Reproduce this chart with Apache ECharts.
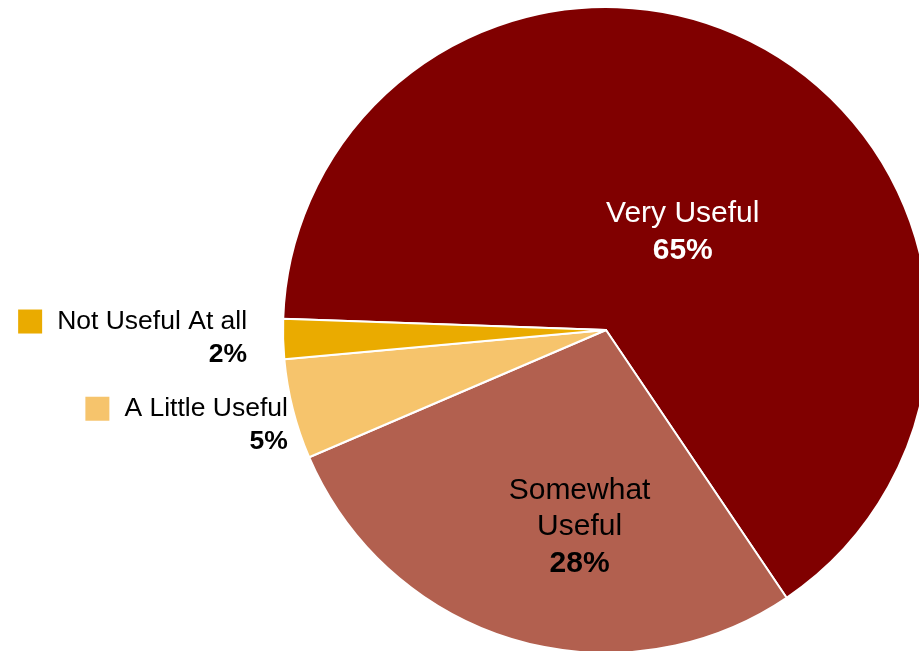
<!DOCTYPE html>
<html>
<head>
<meta charset="utf-8">
<script src="https://cdn.jsdelivr.net/npm/echarts@6/dist/echarts.min.js"></script>
<style>
  html, body { margin: 0; padding: 0; background: #fff; }
  #chart { width: 919px; height: 651px; }
</style>
</head>
<body>
<div id="chart"></div>
<script>
// 数据
const categories = ['Very Useful', 'Somewhat Useful', 'A Little Useful', 'Not Useful At all'];
const percents = [65, 28, 5, 2];
const colors = ['#800000', '#B2604F', '#F6C46C', '#EAAB00'];

const font = '"Liberation Sans", Arial, sans-serif';

// 大扇区的内部标签
const insideLabel = (text, color, offset) => ({
    position: 'inside',
    offset: offset,
    formatter: text + '\n{pct|{c}%}',
    color: color,
    fontFamily: font,
    fontSize: 30,
    lineHeight: 36.5,
    align: 'center',
    rich: {
        pct: { fontWeight: 'bold', fontSize: 30, lineHeight: 36.5, color: color, fontFamily: font }
    }
});

// 小扇区的外部标签（带图例方块）
const outsideLabel = (color, offset) => ({
    position: 'outside',
    offset: offset,
    formatter: '{box|}{gap|}{name|{b}}\n{pct|{c}%}',
    fontFamily: font,
    color: '#000',
    rich: {
        box: { backgroundColor: color, width: 24, height: 24, align: 'left' },
        gap: { width: 15, align: 'left' },
        name: { fontSize: 26.5, lineHeight: 33, color: '#000', fontFamily: font, align: 'left' },
        pct: { fontSize: 26.5, lineHeight: 33, fontWeight: 'bold', color: '#000', fontFamily: font, align: 'right' }
    }
});

const labels = [
    insideLabel('Very Useful', '#fff', [-3, 46]),
    insideLabel('Somewhat\nUseful', '#000', [20, 39]),
    outsideLabel(colors[2], [0, 16]),
    outsideLabel(colors[3], [-31, -1])
];

const chart = echarts.init(document.getElementById('chart'));

chart.setOption({
    animation: false,
    series: [
        {
            type: 'pie',
            center: [606, 330],
            radius: 323,
            startAngle: 178,
            clockwise: true,
            avoidLabelOverlap: false,
            labelLine: { show: false, length: 0, length2: 0 },
            itemStyle: { borderColor: '#fff', borderWidth: 2 },
            emphasis: { disabled: true },
            data: categories.map((name, i) => ({
                name: name,
                value: percents[i],
                itemStyle: { color: colors[i] },
                label: labels[i]
            }))
        }
    ]
});
</script>
</body>
</html>
